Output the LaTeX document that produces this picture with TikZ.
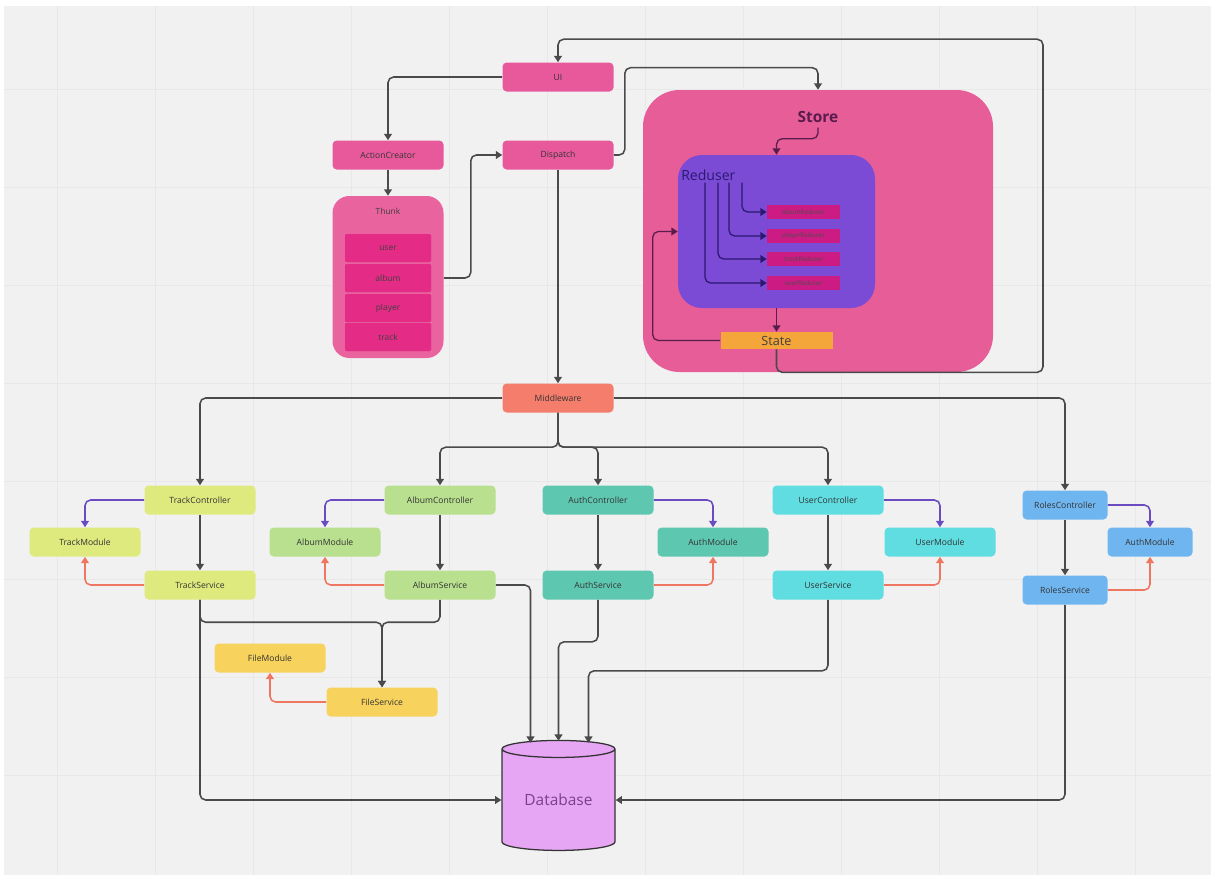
\documentclass[tikz,border=0pt]{standalone}
\usepackage{fontspec}
\setmainfont{Open Sans}
\usetikzlibrary{arrows.meta,shapes.geometric,calc}
\definecolor{bgc}{HTML}{F1F1F1}
\definecolor{gridc}{HTML}{E8E8E8}
\definecolor{pinkn}{HTML}{E8599C}
\definecolor{thunkc}{HTML}{E9649F}
\definecolor{thunki}{HTML}{E42C87}
\definecolor{storec}{HTML}{E65D98}
\definecolor{redc}{HTML}{7C4BD6}
\definecolor{reditem}{HTML}{CC1C84}
\definecolor{statec}{HTML}{F5A63A}
\definecolor{mwc}{HTML}{F47D6C}
\definecolor{trackc}{HTML}{DEEA7E}
\definecolor{albumc}{HTML}{B8E08E}
\definecolor{authc}{HTML}{5EC7B0}
\definecolor{userc}{HTML}{5FDDE0}
\definecolor{rolesc}{HTML}{6FB6F0}
\definecolor{filec}{HTML}{F7D25C}
\definecolor{dbc}{HTML}{E6A6F4}
\definecolor{dbtext}{HTML}{7B3D8C}
\definecolor{conn}{HTML}{4A4A4A}
\definecolor{purplec}{HTML}{6A4CC0}
\definecolor{redl}{HTML}{EF7762}
\definecolor{maroon}{HTML}{5A1C4C}
\definecolor{navy}{HTML}{2C1870}
\def\px{0.025cm}
\begin{document}
\begin{tikzpicture}[x=0.025cm,y=-0.025cm,
  box/.style={rounded corners=3pt, minimum width=111*\px, minimum height=29*\px, inner sep=0pt,
    font=\fontsize{6.1}{7}\selectfont, text=black!80},
  sbox/.style={box, minimum width=85*\px},
  tbox/.style={rounded corners=1pt, minimum width=87*\px, minimum height=29*\px, inner sep=0pt,
    fill=thunki, draw=thunkc!80!white, line width=0.3pt, font=\fontsize{6}{7}\selectfont, text=black!75},
  ritem/.style={minimum width=73*\px, minimum height=14*\px, inner sep=0pt, fill=reditem,
    font=\fontsize{4.5}{5}\selectfont, text=black!70},
  cn/.style={draw=conn, line width=1.1pt, rounded corners=4pt, -{Triangle[width=5.5pt,length=4.5pt]}},
  pcn/.style={cn, draw=purplec},
  rcn/.style={cn, draw=redl},
  mcn/.style={cn, draw=maroon, line width=0.9pt},
  ncn/.style={cn, draw=navy, line width=0.9pt},
]
\useasboundingbox (0,0) rectangle (1211,875);
\fill[white] (0,0) rectangle (1211,875);
\fill[bgc] (4,6) rectangle (1211,875);
\foreach \x in {57,155,253,351,449,547,645,743,841,939,1037,1135}
  \draw[gridc, line width=0.4pt] (\x,6) -- (\x,875);
\foreach \y in {89,187,285,383,481,579,677,775}
  \draw[gridc, line width=0.4pt] (4,\y) -- (1211,\y);

% containers
\node[fill=storec, rounded corners=26pt, minimum width=350*\px, minimum height=282*\px, inner sep=0pt] (store) at (818,231) {};
\node[font=\fontsize{11}{12}\selectfont\bfseries, text=maroon] (storelbl) at (818,117) {Store};
\node[fill=redc, rounded corners=17pt, minimum width=197*\px, minimum height=153*\px, inner sep=0pt] (reduser) at (776.5,231.5) {};
\node[font=\fontsize{10}{11}\selectfont, text=navy, anchor=west, inner sep=0pt] (reduserlbl) at (681,175) {Reduser};
\node[ritem] (r1) at (803.5,212) {albumReducer};
\node[ritem] (r2) at (803.5,236) {playerReducer};
\node[ritem] (r3) at (803.5,259) {trackReducer};
\node[ritem] (r4) at (803.5,283) {userReducer};
\node[fill=statec, minimum width=112*\px, minimum height=17*\px, inner sep=0pt,
  font=\fontsize{9}{10}\selectfont, text=black!75] (state) at (776.5,340.5) {State};

\node[box, fill=pinkn] (ui) at (558,77) {UI};
\node[box, fill=pinkn] (actc) at (388,155) {ActionCreator};
\node[box, fill=pinkn] (dispatch) at (558,155) {Dispatch};

\node[fill=thunkc, rounded corners=12pt, minimum width=111*\px, minimum height=162*\px, inner sep=0pt] (thunk) at (388,277) {};
\node[font=\fontsize{6}{7}\selectfont, text=black!75] (thunklbl) at (388,211) {Thunk};
\node[tbox] (tuser) at (388,248) {user};
\node[tbox] (talbum) at (388,278) {album};
\node[tbox] (tplayer) at (388,308) {player};
\node[tbox] (ttrack) at (388,337) {track};

\node[box, fill=mwc] (mw) at (558,398) {Middleware};

\node[box, fill=trackc] (tc) at (200,500) {TrackController};
\node[box, fill=trackc] (tm) at (85,542) {TrackModule};
\node[box, fill=trackc] (ts) at (200,585) {TrackService};
\node[box, fill=albumc] (alc) at (440,500) {AlbumController};
\node[box, fill=albumc] (alm) at (325,542) {AlbumModule};
\node[box, fill=albumc] (als) at (440,585) {AlbumService};
\node[box, fill=authc] (auc) at (598,500) {AuthController};
\node[box, fill=authc] (aum) at (713,542) {AuthModule};
\node[box, fill=authc] (aus) at (598,585) {AuthService};
\node[box, fill=userc] (usc) at (828,500) {UserController};
\node[box, fill=userc] (usm) at (940,542) {UserModule};
\node[box, fill=userc] (uss) at (828,585) {UserService};
\node[sbox, fill=rolesc] (roc) at (1065,505) {RolesController};
\node[sbox, fill=rolesc] (rom) at (1150,542) {AuthModule};
\node[sbox, fill=rolesc] (ros) at (1065,590) {RolesService};
\node[box, fill=filec] (fm) at (270,658) {FileModule};
\node[box, fill=filec] (fs) at (382,702) {FileService};

\node[cylinder, shape border rotate=90, aspect=0.25, draw=black!80, line width=0.9pt, fill=dbc,
  minimum width=113*\px, minimum height=110*\px, inner sep=0pt,
  font=\fontsize{11}{12}\selectfont, text=dbtext] (db) at (558.5,800) {Database};
\coordinate (dbA) at ($(db.north)+(-28,3)$);
\coordinate (dbB) at ($(db.north)+(0,1)$);
\coordinate (dbC) at ($(db.north)+(30,3)$);

% top connectors
\draw[cn] (state.south) |- ($(store.south)+(225,0)$) |- ($(ui.north)+(0,-23)$) -- (ui.north);
\draw[cn] (ui.west) -| (actc.north);
\draw[cn] (actc) -- (thunk);
\draw[cn] (talbum.east -| thunk.east) -- ++(27,0) |- (dispatch.west);
\draw[cn] (dispatch.east) -- ++(11,0) |- ($(store.north)+(0,-22)$) -- (store.north);
\draw[cn] (dispatch) -- (mw);
% store internals
\draw[mcn] (storelbl.south) |- ($(reduser.north)+(0,-16)$) -- (reduser.north);
\draw[ncn] ($(reduserlbl.south west)+(61,2)$) |- (r1.west);
\draw[ncn] ($(reduserlbl.south west)+(48,2)$) |- (r2.west);
\draw[ncn] ($(reduserlbl.south west)+(37,2)$) |- (r3.west);
\draw[ncn] ($(reduserlbl.south west)+(24,2)$) |- (r4.west);
\draw[mcn] (reduser) -- (state);
\draw[mcn] (state.west) -| ($(reduser.west)+(-25,0)$) -- (reduser.west);

% middleware
\draw[cn] (mw.west) -| (tc.north);
\draw[cn] (mw.east) -| (roc.north);
\draw[cn] (mw.south) |- ($(alc.north)+(0,-38)$) -- (alc.north);
\draw[cn] (mw.south) |- ($(auc.north)+(0,-38)$) -- (auc.north);
\draw[cn] (mw.south) |- ($(usc.north)+(0,-38)$) -- (usc.north);

% controllers
\foreach \c/\s in {tc/ts, alc/als, auc/aus, usc/uss, roc/ros}
  \draw[cn] (\c) -- (\s);
\draw[pcn] (tc.west) -| (tm.north);
\draw[pcn] (alc.west) -| (alm.north);
\draw[pcn] (auc.east) -| (aum.north);
\draw[pcn] (usc.east) -| (usm.north);
\draw[pcn] (roc.east) -| (rom.north);
\draw[rcn] (ts.west) -| (tm.south);
\draw[rcn] (als.west) -| (alm.south);
\draw[rcn] (aus.east) -| (aum.south);
\draw[rcn] (uss.east) -| (usm.south);
\draw[rcn] (ros.east) -| (rom.south);
\draw[rcn] (fs.west) -| (fm.south);

% services to file / database
\draw[cn] (ts.south) |- ($(fs.north)+(0,-65)$) -- (fs.north);
\draw[cn] (als.south) |- ($(fs.north)+(0,-65)$) -- (fs.north);
\draw[cn] (ts.south) |- (db.west);
\draw[cn] (als.east) -| (dbA);
\draw[cn] (aus.south) |- ($(dbB)+(0,-99)$) -- (dbB);
\draw[cn] (uss.south) |- ($(dbC)+(0,-72)$) -- (dbC);
\draw[cn] (ros.south) |- (db.east);
\end{tikzpicture}
\end{document}
